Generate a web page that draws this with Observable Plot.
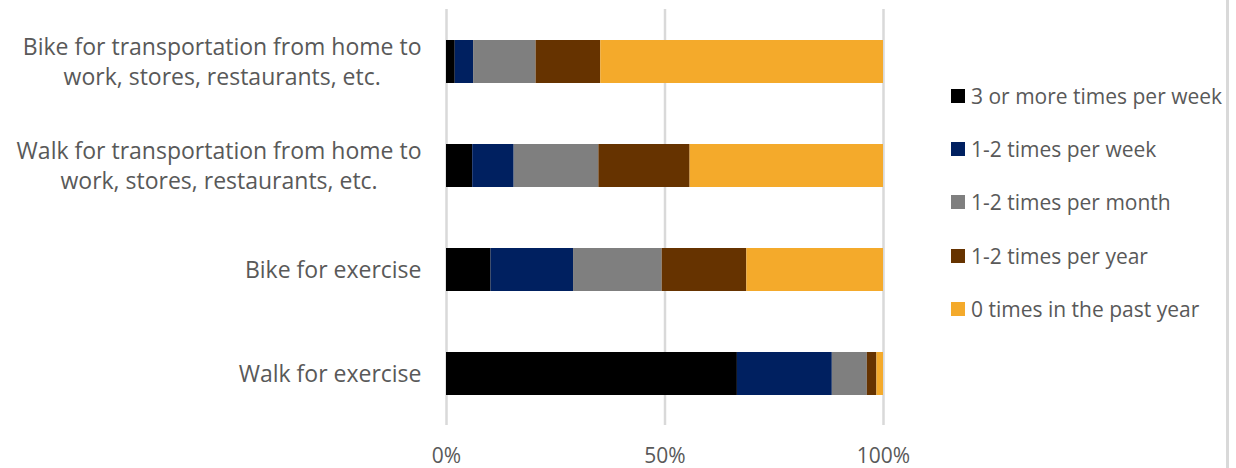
<!DOCTYPE html>
<html><head><meta charset="utf-8">
<script src="https://cdn.jsdelivr.net/npm/d3@7"></script>
<script src="https://cdn.jsdelivr.net/npm/@observablehq/plot@0.6"></script>
<style>
body{margin:0;background:#fff;}
#wrap{position:relative;width:1236px;height:468px;overflow:hidden;background:#fff;}
#legend{position:absolute;left:951px;top:0;font-family:"Open Sans",sans-serif;color:#595959;}
.item{position:absolute;left:0;white-space:nowrap;display:flex;align-items:center;height:20px;}
.sw{width:14px;height:14px;margin-right:6px;flex:none;}
#border{position:absolute;left:1226px;top:0;width:3px;height:468px;background:#d9d9d9;}
</style></head><body><div id="wrap"><div id="legend"></div><div id="border"></div></div>
<script>
const categories = [
  "Bike for transportation from home to\nwork, stores, restaurants, etc.",
  "Walk for transportation from home to\nwork, stores, restaurants, etc.",
  "Bike for exercise",
  "Walk for exercise"
];
const frequencies = ["3 or more times per week","1-2 times per week","1-2 times per month","1-2 times per year","0 times in the past year"];
const colors = ["#000000","#002060","#7f7f7f","#663300","#f4aa2b"];
const threePlusPerWeek = [2.0, 6.0, 10.2, 66.5];
const oneTwoPerWeek   = [4.2, 9.5, 18.9, 21.7];
const oneTwoPerMonth  = [14.3, 19.4, 20.3, 8.0];
const oneTwoPerYear   = [14.8, 20.9, 19.4, 2.2];
const zeroPastYear    = [64.7, 44.3, 31.3, 1.5];
const xTicks = [0, 0.5, 1];

const series = [threePlusPerWeek, oneTwoPerWeek, oneTwoPerMonth, oneTwoPerYear, zeroPastYear];
const data = [];
categories.forEach((c, i) => series.forEach((s, j) => data.push({category: c, frequency: frequencies[j], value: s[i]})));

const FONT = "Open Sans";
const labelSize = 23;
const tickSize = 21;
const legendSize = 21;
const textColor = "#595959";

const ctx = document.createElement("canvas").getContext("2d");
function maxLineWidth(str, size, fam) {
  ctx.font = `${size}px "${fam}"`;
  return Math.max(...str.split("\n").map(l => ctx.measureText(l).width));
}

const labelMarks = categories.map(c => Plot.text([c], {
  y: d => d, text: d => d, frameAnchor: "left", textAnchor: "middle",
  dx: -25 - maxLineWidth(c, labelSize, FONT) / 2, dy: -1.5,
  fill: textColor, fontSize: labelSize, lineHeight: 30 / labelSize
}));

const plot = Plot.plot({
  width: 1236, height: 468,
  marginLeft: 446, marginRight: 353, marginTop: 9, marginBottom: 43,
  style: {fontFamily: `"${FONT}", sans-serif`, background: "#fff"},
  x: {domain: [0, 1], axis: null},
  y: {domain: categories, paddingInner: 0.59, paddingOuter: 0.295, axis: null},
  color: {domain: frequencies, range: colors},
  marks: [
    Plot.gridX(xTicks, {stroke: "#d9d9d9", strokeOpacity: 1, strokeWidth: 2.5}),
    Plot.barX(data, Plot.stackX({offset: "normalize", x: "value", y: "category", fill: "frequency", order: null})),
    Plot.axisX(xTicks, {tickFormat: d => Math.round(d * 100) + "%", tickSize: 0, tickPadding: 23, fontSize: tickSize, fill: textColor, label: null}),
    ...labelMarks
  ]
});
document.getElementById("wrap").prepend(plot);

const color = plot.scale("color");
const legend = document.getElementById("legend");
legend.style.fontSize = legendSize + "px";
frequencies.forEach((f, i) => {
  const it = document.createElement("div");
  it.className = "item";
  it.style.top = (96.5 + 53.4 * i - 11) + "px";
  it.innerHTML = `<div class="sw" style="background:${color.apply(f)}"></div><span>${f}</span>`;
  legend.appendChild(it);
});
</script>
</body></html>
